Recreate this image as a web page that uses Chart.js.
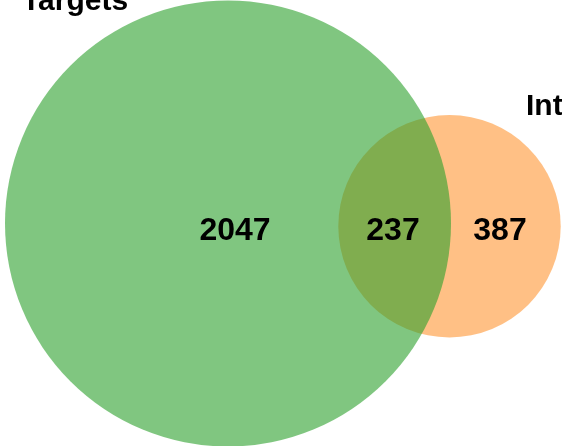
<!DOCTYPE html>
<html>
<head>
<meta charset="utf-8">
<script src="https://cdn.jsdelivr.net/npm/chart.js@4/dist/chart.umd.min.js"></script>
<style>
html,body{margin:0;padding:0;background:#fff;}
#wrap{width:562px;height:446px;position:relative;}
</style>
</head>
<body>
<div id="wrap"><canvas id="c" width="562" height="446"></canvas></div>
<script>
// Data
const setNames = ["Targets", "Interactors"];
const regionLabels = ["Targets only", "Both", "Interactors only"];
const regionCounts = [2047, 237, 387];

// Layout (plot units = pixels)
const circleCenters = [{x: 228, y: 223.5}, {x: 449.5, y: 226.3}];
const circleRadii = [223, 111.2];
const countPositions = [{x: 235, y: 231}, {x: 393, y: 231}, {x: 500, y: 231}];
const namePositions = [{x: 22, y: 10}, {x: 526, y: 115}];
const fills = ["rgba(44,160,44,0.6)", "rgba(255,160,70,0.66)"];

const labelPlugin = {
  id: 'vennLabels',
  afterDatasetsDraw(chart) {
    const ctx = chart.ctx, xs = chart.scales.x, ys = chart.scales.y;
    ctx.save();
    ctx.fillStyle = '#000';
    ctx.font = 'bold 32px "Liberation Sans", Arial, sans-serif';
    ctx.textAlign = 'center';
    ctx.textBaseline = 'middle';
    regionCounts.forEach((v, i) => {
      ctx.fillText(String(v), xs.getPixelForValue(countPositions[i].x), ys.getPixelForValue(countPositions[i].y));
    });
    ctx.font = 'bold 30px "Liberation Sans", Arial, sans-serif';
    ctx.textAlign = 'left';
    ctx.textBaseline = 'alphabetic';
    setNames.forEach((n, i) => {
      ctx.fillText(n, xs.getPixelForValue(namePositions[i].x), ys.getPixelForValue(namePositions[i].y));
    });
    ctx.restore();
  }
};

new Chart(document.getElementById('c'), {
  type: 'bubble',
  data: {
    datasets: setNames.map((n, i) => ({
      label: n,
      data: [{x: circleCenters[i].x, y: circleCenters[i].y, r: circleRadii[i]}],
      backgroundColor: fills[i],
      borderWidth: 0,
      hoverBorderWidth: 0,
      clip: false
    }))
  },
  options: {
    responsive: false,
    animation: false,
    events: [],
    layout: {padding: 0, autoPadding: false},
    plugins: {legend: {display: false}, tooltip: {enabled: false}},
    scales: {
      x: {type: 'linear', min: 0, max: 562, display: false},
      y: {type: 'linear', min: 0, max: 446, reverse: true, display: false}
    }
  },
  plugins: [labelPlugin]
});
</script>
</body>
</html>
